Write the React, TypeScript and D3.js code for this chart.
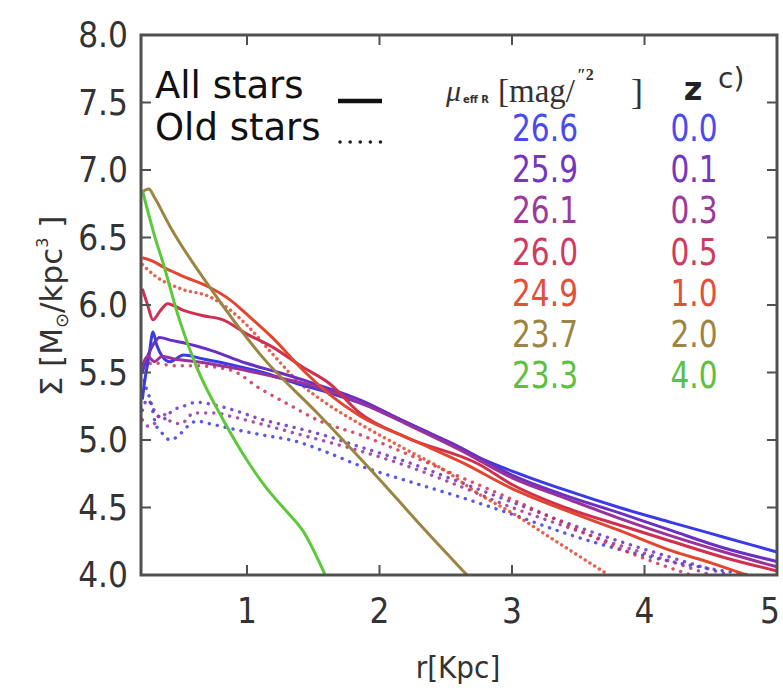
import React from "react";
import * as d3 from "d3";

type Pt = [number, number];

// ---- data (r [Kpc], log Sigma) ----
const blueAll: Pt[] = [[0.21,5.3],[0.23,5.45],[0.26,5.62],[0.29,5.8],[0.32,5.7],[0.36,5.62],[0.42,5.58],[0.52,5.63],[0.67,5.6],[0.87,5.56],[1.12,5.5],[1.37,5.42],[1.62,5.35],[2.0,5.22],[2.38,5.05],[2.75,4.87],[3.0,4.77],[3.4,4.63],[3.81,4.5],[4.2,4.39],[4.6,4.28],[5.0,4.17]];
const purpleAll: Pt[] = [[0.21,5.5],[0.25,5.62],[0.3,5.72],[0.34,5.76],[0.42,5.74],[0.52,5.72],[0.74,5.66],[0.99,5.57],[1.24,5.5],[1.5,5.42],[1.87,5.29],[2.2,5.13],[2.6,4.95],[3.0,4.74],[3.4,4.59],[3.81,4.46],[4.2,4.33],[4.6,4.2],[5.0,4.1]];
const magentaAll: Pt[] = [[0.21,5.55],[0.25,5.62],[0.3,5.58],[0.36,5.62],[0.45,5.6],[0.62,5.58],[0.92,5.53],[1.2,5.47],[1.5,5.4],[1.87,5.27],[2.2,5.12],[2.6,4.93],[3.0,4.72],[3.4,4.57],[3.81,4.42],[4.2,4.29],[4.6,4.17],[5.0,4.06]];
const crimsonAll: Pt[] = [[0.21,6.12],[0.25,6.0],[0.29,5.89],[0.34,5.95],[0.4,6.01],[0.52,5.96],[0.67,5.92],[0.82,5.89],[0.99,5.79],[1.19,5.69],[1.42,5.54],[1.62,5.42],[1.85,5.2],[2.2,5.02],[2.75,4.82],[3.0,4.67],[3.4,4.5],[3.81,4.37],[4.2,4.25],[4.6,4.13],[5.0,4.03]];
const orangeAll: Pt[] = [[0.21,6.35],[0.3,6.32],[0.37,6.28],[0.5,6.22],[0.72,6.13],[0.87,6.04],[1.0,5.93],[1.19,5.76],[1.42,5.52],[1.62,5.34],[1.85,5.18],[2.25,5.0],[2.63,4.83],[3.0,4.64],[3.4,4.48],[3.81,4.33],[4.2,4.18],[4.5,4.09],[4.77,4.0]];
const brownAll: Pt[] = [[0.21,6.84],[0.26,6.86],[0.3,6.8],[0.42,6.58],[0.72,6.13],[1.12,5.61],[1.53,5.2],[1.98,4.73],[2.3,4.38],[2.66,4.0]];
const greenAll: Pt[] = [[0.21,6.85],[0.25,6.7],[0.3,6.52],[0.37,6.3],[0.49,5.89],[0.62,5.54],[0.82,5.15],[1.0,4.85],[1.15,4.64],[1.3,4.47],[1.42,4.33],[1.59,4.0]];

const blueOld: Pt[] = [[0.21,5.5],[0.24,5.38],[0.27,5.3],[0.31,5.12],[0.36,5.05],[0.42,5.0],[0.48,5.03],[0.55,5.1],[0.62,5.14],[0.72,5.12],[0.9,5.08],[1.1,5.04],[1.37,4.99],[1.6,4.91],[1.85,4.81],[2.2,4.7],[2.6,4.58],[3.0,4.45],[3.4,4.31],[3.81,4.19],[4.2,4.1],[4.6,4.03],[5.0,3.97]];
const purpleOld: Pt[] = [[0.21,5.22],[0.25,5.3],[0.3,5.22],[0.36,5.15],[0.44,5.22],[0.52,5.25],[0.62,5.28],[0.75,5.26],[0.87,5.23],[1.12,5.15],[1.37,5.09],[1.6,5.03],[1.85,4.95],[2.2,4.84],[2.6,4.69],[3.0,4.54],[3.4,4.39],[3.81,4.25],[4.2,4.13],[4.5,4.04],[4.7,3.98]];
const magentaOld: Pt[] = [[0.21,5.15],[0.26,5.1],[0.3,5.12],[0.36,5.2],[0.42,5.14],[0.5,5.12],[0.6,5.2],[0.75,5.2],[0.9,5.17],[1.1,5.12],[1.4,5.04],[1.85,4.92],[2.2,4.81],[2.6,4.66],[3.0,4.5],[3.4,4.36],[3.81,4.22],[4.2,4.1],[4.5,4.0]];
const crimsonOld: Pt[] = [[0.21,5.55],[0.3,5.57],[0.45,5.55],[0.6,5.55],[0.87,5.52],[1.1,5.38],[1.32,5.26],[1.55,5.14],[1.85,5.04],[2.2,4.9],[2.6,4.73],[3.0,4.56],[3.4,4.38],[3.8,4.2],[4.2,4.05],[4.35,4.0]];
const orangeOld: Pt[] = [[0.21,6.3],[0.3,6.22],[0.5,6.12],[0.72,6.06],[0.85,5.98],[1.0,5.85],[1.19,5.64],[1.4,5.42],[1.6,5.27],[1.85,5.12],[2.2,4.93],[2.5,4.77],[2.75,4.6],[3.0,4.46],[3.3,4.27],[3.73,4.0]];

const muLabels = ["26.6", "25.9", "26.1", "26.0", "24.9", "23.7", "23.3"];
const zLabels = ["0.0", "0.1", "0.3", "0.5", "1.0", "2.0", "4.0"];
const seriesColors = ["#3b3be6", "#6a30c4", "#993399", "#d0304f", "#e0472e", "#9c8442", "#5cc83a"];
const labelColors = ["#4a4af0", "#7535bf", "#9a3a9a", "#cf3a5f", "#e0503a", "#9c8442", "#5cc040"];

const allSeries: Pt[][] = [blueAll, purpleAll, magentaAll, crimsonAll, orangeAll, brownAll, greenAll];
const oldSeries: Pt[][] = [blueOld, purpleOld, magentaOld, crimsonOld, orangeOld];

const xTicks = [1, 2, 3, 4, 5];
const yTicks = [4.0, 4.5, 5.0, 5.5, 6.0, 6.5, 7.0, 7.5, 8.0];

const W = 783, H = 691;
const L = 141, R = 777, T = 35, B = 575;

export default function App() {
  const x = d3.scaleLinear().domain([0.2, 5]).range([L, R]);
  const y = d3.scaleLinear().domain([4, 8]).range([B, T]);
  const line = d3.line<Pt>().x((d) => x(d[0])).y((d) => y(d[1])).curve(d3.curveMonotoneX);
  const sans = "'DejaVu Sans', sans-serif";
  const serif = "'Liberation Serif', 'DejaVu Serif', serif";
  const spine = "#505050";

  return (
    <svg width={W} height={H} style={{ position: "absolute", left: 0, top: 0, background: "#fff" }}>
      <defs>
        <clipPath id="plot">
          <rect x={L} y={T} width={R - L} height={B - T} />
        </clipPath>
      </defs>
      <rect x={0} y={0} width={W} height={H} fill="#fff" />

      <g clipPath="url(#plot)">
        {oldSeries.map((s, i) => (
          <path key={"o" + i} d={line(s) || ""} fill="none" stroke={seriesColors[i]} strokeOpacity={0.85}
            strokeWidth={3.4} strokeLinecap="round" strokeDasharray={i === 4 ? "0.1,5.5" : "0.1,8"} />
        ))}
        {allSeries.map((s, i) => (
          <path key={"a" + i} d={line(s) || ""} fill="none" stroke={seriesColors[i]} strokeWidth={3}
            strokeLinejoin="round" />
        ))}
      </g>

      {/* frame */}
      <rect x={L} y={T} width={R - L} height={B - T} fill="none" stroke={spine} strokeWidth={3} />
      {yTicks.map((t) => (
        <g key={"yt" + t}>
          <line x1={L} x2={L + 10} y1={y(t)} y2={y(t)} stroke={spine} strokeWidth={2} />
          <line x1={R - 10} x2={R} y1={y(t)} y2={y(t)} stroke={spine} strokeWidth={2} />
          <text transform={`translate(128,${y(t) + 12}) scale(0.87,1)`} textAnchor="end"
            fontFamily={sans} fontSize={36} fill="#333">{d3.format(".1f")(t)}</text>
        </g>
      ))}
      {xTicks.map((t) => (
        <g key={"xt" + t}>
          <line x1={x(t)} x2={x(t)} y1={B} y2={B - 10} stroke={spine} strokeWidth={2} />
          <line x1={x(t)} x2={x(t)} y1={T} y2={T + 10} stroke={spine} strokeWidth={2} />
          <text transform={`translate(${Math.min(x(t), 770)},623) scale(0.87,1)`} textAnchor="middle"
            fontFamily={sans} fontSize={36} fill="#333">{t}</text>
        </g>
      ))}

      {/* axis labels */}
      <text transform="translate(458,678) scale(0.9,1)" textAnchor="middle" fontFamily={sans} fontSize={31} fill="#333">r[Kpc]</text>
      <text transform="translate(62,306) rotate(-90)" textAnchor="middle" fontFamily={sans} fontSize={31} fill="#333">
        Σ [M<tspan fontSize={18} dy={6}>⊙</tspan><tspan dy={-6}>/kpc</tspan><tspan fontSize={16} dy={-14}>3</tspan><tspan dy={14}> ]</tspan>
      </text>

      {/* legend: line styles */}
      <text x={155} y={98} fontFamily={sans} fontSize={37} fill="#111">All stars</text>
      <text x={155} y={140} fontFamily={sans} fontSize={37} fill="#111">Old stars</text>
      <line x1={338} x2={382} y1={101} y2={101} stroke="#111" strokeWidth={4.5} />
      <line x1={340} x2={382} y1={142} y2={142} stroke="#222" strokeWidth={3.5} strokeLinecap="round" strokeDasharray="0.1,10" />

      {/* legend: header */}
      <text x={446} y={101} fontFamily={serif} fontStyle="italic" fontSize={30} fill="#333">μ</text>
      <text x={463} y={103} fontFamily={sans} fontWeight="bold" fontSize={10} fill="#333">eff R</text>
      <text x={498} y={102} fontFamily={serif} fontSize={33} fill="#333">[mag/</text>
      <text x={577} y={80} fontFamily={serif} fontWeight="bold" fontSize={16} fill="#333">″2</text>
      <text x={631} y={104} fontFamily={serif} fontSize={36} fill="#333">]</text>
      <text x={693} y={100} textAnchor="middle" fontFamily={sans} fontWeight="bold" fontSize={32} fill="#222">z</text>
      <text x={718} y={88} fontFamily={sans} fontSize={28} fill="#333">c)</text>

      {muLabels.map((m, i) => (
        <text key={"mu" + i} transform={`translate(545,${141 + i * 41.2}) scale(0.78,1)`} textAnchor="middle"
          fontFamily={sans} fontSize={38} fill={labelColors[i]}>{m}</text>
      ))}
      {zLabels.map((z, i) => (
        <text key={"z" + i} transform={`translate(694,${141 + i * 41.2}) scale(0.78,1)`} textAnchor="middle"
          fontFamily={sans} fontSize={38} fill={labelColors[i]}>{z}</text>
      ))}
    </svg>
  );
}
